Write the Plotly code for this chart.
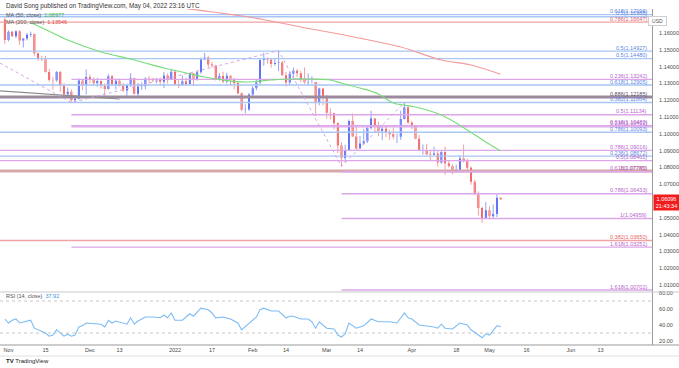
import plotly.graph_objects as go

# ---------------- data ----------------
# bar index: 0 = 2021-11-01, one index per trading day; -1 = 2021-10-29
bars = list(range(-1, 134))
opens = [1.1680,1.1558,1.1607,1.1580,1.1610,1.1555,1.1568,1.1589,1.1594,1.1479,1.1445,
 1.1444,1.1368,1.1320,1.1319,1.1368,1.1288,1.1235,1.1250,1.1199,1.1208,1.1318,1.1289,
 1.1338,1.1320,1.1301,1.1314,1.1284,1.1266,1.1343,1.1293,1.1316,1.1284,1.1258,1.1289,
 1.1330,1.1238,1.1282,1.1283,1.1329,1.1327,1.1319,1.1327,1.1310,1.1347,1.1324,1.1370,
 1.1297,1.1287,1.1313,1.1296,1.1360,1.1326,1.1366,1.1442,1.1454,1.1412,1.1407,1.1325,
 1.1344,1.1312,1.1345,1.1327,1.1303,1.1241,1.1143,1.1145,1.1234,1.1271,1.1305,1.1440,
 1.1450,1.1441,1.1416,1.1422,1.1425,1.1349,1.1305,1.1357,1.1376,1.1361,1.1323,1.1307,
 1.1308,1.1308,1.1189,1.1269,1.1221,1.1125,1.1122,1.1063,1.0931,1.0856,1.0904,1.1076,
 1.0984,1.0913,1.0943,1.0955,1.1035,1.1091,1.1051,1.1016,1.1030,1.1005,1.0997,1.0983,
 1.0983,1.1088,1.1158,1.1067,1.1046,1.0971,1.0904,1.0904,1.0879,1.0876,1.0883,1.0829,
 1.0891,1.0824,1.0809,1.0780,1.0786,1.0853,1.0837,1.0798,1.0714,1.0640,1.0559,1.0496,
 1.0545,1.0509,1.0522,1.0620]
highs = [1.1692,1.1616,1.1613,1.1616,1.1617,1.1570,1.1599,1.1608,1.1597,1.1484,1.1464,
 1.1464,1.1386,1.1338,1.1374,1.1374,1.1301,1.1275,1.1264,1.1229,1.1330,1.1322,1.1383,
 1.1352,1.1336,1.1334,1.1319,1.1300,1.1355,1.1350,1.1328,1.1328,1.1303,1.1299,1.1360,
 1.1335,1.1302,1.1306,1.1336,1.1344,1.1333,1.1333,1.1335,1.1369,1.1360,1.1386,1.1377,
 1.1320,1.1347,1.1333,1.1364,1.1362,1.1375,1.1453,1.1482,1.1465,1.1428,1.1410,1.1363,
 1.1369,1.1363,1.1348,1.1328,1.1308,1.1246,1.1175,1.1243,1.1287,1.1321,1.1449,1.1483,
 1.1454,1.1451,1.1449,1.1495,1.1434,1.1368,1.1369,1.1395,1.1387,1.1373,1.1395,1.1360,
 1.1342,1.1309,1.1274,1.1274,1.1231,1.1152,1.1125,1.1068,1.0950,1.0935,1.1085,1.1121,
 1.1044,1.0987,1.1028,1.1045,1.1137,1.1092,1.1073,1.1043,1.1048,1.1024,1.1036,1.1002,
 1.1137,1.1185,1.1165,1.1076,1.1054,1.0994,1.0937,1.0940,1.0903,1.0923,1.0901,1.0900,
 1.0924,1.0841,1.0819,1.0816,1.0872,1.0936,1.0853,1.0806,1.0725,1.0657,1.0566,1.0594,
 1.0569,1.0580,1.0641,1.0624]
lows = [1.1535,1.1550,1.1576,1.1570,1.1529,1.1513,1.1555,1.1576,1.1465,1.1434,1.1433,
 1.1365,1.1310,1.1264,1.1309,1.1250,1.1226,1.1225,1.1186,1.1186,1.1204,1.1260,1.1235,
 1.1300,1.1288,1.1280,1.1270,1.1227,1.1263,1.1286,1.1263,1.1282,1.1249,1.1222,1.1279,
 1.1234,1.1222,1.1262,1.1264,1.1300,1.1308,1.1300,1.1290,1.1272,1.1299,1.1322,1.1285,
 1.1272,1.1285,1.1285,1.1290,1.1285,1.1316,1.1357,1.1438,1.1393,1.1394,1.1317,1.1316,
 1.1301,1.1300,1.1284,1.1264,1.1235,1.1135,1.1121,1.1137,1.1220,1.1259,1.1289,1.1405,
 1.1418,1.1394,1.1405,1.1374,1.1344,1.1280,1.1290,1.1334,1.1338,1.1307,1.1298,1.1288,
 1.1300,1.1106,1.1170,1.1169,1.1090,1.1085,1.1026,1.0885,1.0806,1.0830,1.0900,1.0982,
 1.0902,1.0915,1.0935,1.0945,1.1025,1.1005,1.0986,1.0962,1.0980,1.0963,1.0965,1.0945,
 1.0964,1.1085,1.1059,1.1028,1.0967,1.0899,1.0876,1.0871,1.0837,1.0873,1.0806,1.0821,
 1.0757,1.0799,1.0759,1.0770,1.0772,1.0829,1.0783,1.0697,1.0635,1.0514,1.0470,1.0492,
 1.0490,1.0492,1.0505,1.0605]
closes = [1.1558,1.1607,1.1580,1.1610,1.1555,1.1568,1.1589,1.1594,1.1479,1.1445,1.1444,
 1.1368,1.1320,1.1319,1.1368,1.1288,1.1235,1.1250,1.1199,1.1208,1.1318,1.1289,1.1338,
 1.1320,1.1301,1.1314,1.1284,1.1266,1.1343,1.1293,1.1316,1.1284,1.1258,1.1289,1.1330,
 1.1238,1.1282,1.1283,1.1329,1.1327,1.1319,1.1327,1.1310,1.1347,1.1324,1.1370,1.1297,
 1.1287,1.1313,1.1296,1.1360,1.1326,1.1366,1.1442,1.1454,1.1412,1.1407,1.1325,1.1344,
 1.1312,1.1345,1.1327,1.1303,1.1241,1.1143,1.1145,1.1234,1.1271,1.1305,1.1440,1.1450,
 1.1441,1.1416,1.1422,1.1425,1.1349,1.1305,1.1357,1.1376,1.1361,1.1323,1.1307,1.1308,
 1.1308,1.1189,1.1269,1.1221,1.1125,1.1122,1.1063,1.0931,1.0856,1.0904,1.1076,1.0984,
 1.0913,1.0943,1.0955,1.1035,1.1091,1.1051,1.1016,1.1030,1.1005,1.0997,1.0983,1.0983,
 1.1088,1.1158,1.1067,1.1046,1.0971,1.0904,1.0904,1.0879,1.0876,1.0883,1.0829,1.0891,
 1.0824,1.0809,1.0780,1.0786,1.0853,1.0837,1.0798,1.0714,1.0640,1.0559,1.0496,1.0545,
 1.0509,1.0522,1.0620,1.0610]

# moving averages (bar index, value)
sma50_bar = [6, 11, 16, 25, 33, 37, 42, 48, 53, 58, 64, 71, 76, 82, 87, 90, 95, 100, 104, 110, 117, 124, 129, 133]
sma50_val = [1.1662, 1.1610, 1.1558, 1.1487, 1.1445, 1.1421, 1.1392, 1.1362, 1.1338, 1.1320, 1.1308,
             1.1320, 1.1326, 1.1326, 1.1320, 1.1302, 1.1273, 1.1237, 1.1183, 1.1160, 1.1112, 1.1023, 1.0951, 1.08977]
sma200_bar = [48, 65, 79, 92, 106, 117, 125, 133]
sma200_val = [1.1745, 1.1695, 1.1636, 1.1582, 1.1517, 1.1439, 1.1410, 1.13546]

# RSI(14)
rsi_bar = [-1,0,1,2,3,6,7,8,10,11,12,13,14,15,16,17,18,19,20,21,25,26,27,28,29,31,32,33,34,35,37,39,41,
           42,43,44,45,47,49,50,52,54,55,56,58,60,62,63,65,67,68,69,71,73,75,76,77,79,81,82,83,84,86,88,
           89,90,91,92,94,96,98,100,103,105,107,108,109,111,115,116,117,118,120,122,124,125,128,129,130,132,133]
rsi_val = [47.5,42.5,46,47.5,42.5,46,36,34,30,26,27.5,34,30,26,28.5,26,27.5,37.5,39,42.5,41,37.5,46,42.5,45,
           42.5,41,49,41,45,50,50,49,52.5,49,55,46,46,54,51,61,59,55,49,50,47.5,42.5,34,42.5,50,59,61,57.5,
           57.5,49,51,51,47.5,47.5,44,36,44,36,35,27.5,25,29,42.5,36,39,47.5,44,44,42.5,55,49,47.5,40,37.5,
           36,41,36,35,42.5,40,34,24,29,27.5,39,37.92]

# Fibonacci levels: price, label, style group, anchor bar (None = from left edge)
fib_price = [1.17096, 1.16968, 1.16647, 1.14927, 1.14480, 1.13242, 1.12905, 1.12185, 1.11864, 1.11134,
             1.10480, 1.10412, 1.10093, 1.09016, 1.08672, 1.08401, 1.07785, 1.07742, 1.06433, 1.04959,
             1.03650, 1.03251, 1.00702]
fib_label = ["0.618(1.17096)", "0.5(1.16968)", "0.786(1.16647)", "0.5(1.14927)", "0.5(1.14480)",
             "0.236(1.13242)", "0.618(1.12905)", "0.886(1.12185)", "0.382(1.11864)", "0.5(1.11134)",
             "0.618(1.10480)", "0.236(1.10412)", "0.786(1.10093)", "0.786(1.09016)", "0.236(1.08672)",
             "0.5(1.08401)", "1(1.07785)", "0.618(1.07742)", "0.786(1.06433)", "1(1.04959)",
             "0.382(1.03650)", "1.618(1.03251)", "1.618(1.00702)"]
fib_group = ["blue", "blue", "red", "blue", "blue", "purple", "blue", "dark", "blue", "purple",
             "purple", "purple", "blue", "purple", "blue", "purple", "brown", "purple", "purple", "purple",
             "red", "purple", "purple"]
fib_start = [None, None, None, None, None, 17, None, None, None, 17,
             17, 17, None, None, None, None, None, 90, 90, 90,
             None, 17, 90]

# dotted swing path (bar, price)
swing_bar = [-2.3, 17, 73, 90, 107]
swing_price = [1.1421, 1.1186, 1.1495, 1.0806, 1.1185]
# grey trend line (bar, price)
trend_bar = [-2.3, 30]
trend_price = [1.1255, 1.1207]

# time axis labels
tick_bar = [0, 10, 22, 30, 45, 55, 66, 75, 86, 95, 109, 121, 130, 140, 152, 160]
tick_text = ["Nov", "15", "Dec", "13", "2022", "17", "Feb", "14", "Mar", "14", "Apr", "18", "May", "16", "Jun", "13"]
price_ticks = [1.01, 1.02, 1.03, 1.04, 1.05, 1.07, 1.08, 1.09, 1.10, 1.11, 1.12, 1.13, 1.14, 1.15, 1.16]
rsi_ticks = [20, 40, 60, 80]
last_price, countdown = "1.06096", "21:43:34"

# ---------------- styling ----------------
W, H = 679, 368
FONT = "Liberation Sans"
XR = [-2.297, 173.92]
X_DOM = [0, 652 / W]
Y1_DOM = [1 - 292 / H, 1 - 9 / H]
Y2_DOM = [1 - 345 / H, 1 - 292 / H]
Y1_R = [1.16 - (292 - 33) / 1680, 1.16 + (33 - 9) / 1680]
Y2_R = [20 - (345 - 341) / 0.8, 20 + (341 - 292) / 0.8]

UP, DN = "#1c2cf5", "#f21c1c"
UPW, DNW = "#8ea4f5", "#f5a0a0"
line_col = {"blue": "#a9c6f5", "purple": "#dca6e8", "red": "#f1a3a3", "dark": "#9b8a9e", "brown": "#d5a9a9"}
line_w = {"blue": 1.3, "purple": 1.3, "red": 1.3, "dark": 3, "brown": 3}
lab_col = {"blue": "#5f86e0", "purple": "#b565cc", "red": "#e06464", "dark": "#5e4e60", "brown": "#b86a6a"}

fig = go.Figure()

# wicks
for up in (True, False):
    wx, wy = [], []
    for b, o, h, l, c in zip(bars, opens, highs, lows, closes):
        if (c >= o) == up:
            wx += [b, b, None]
            wy += [l, h, None]
    fig.add_trace(go.Scatter(x=wx, y=wy, mode="lines", line=dict(color=UPW if up else DNW, width=1),
                             hoverinfo="skip", showlegend=False, xaxis="x", yaxis="y"))

body_hi = [max(o, c) for o, c in zip(opens, closes)]
body_lo = [min(o, c) for o, c in zip(opens, closes)]
fig.add_trace(go.Candlestick(
    x=bars, open=opens, high=body_hi, low=body_lo, close=closes,
    increasing=dict(fillcolor=UP, line=dict(color=UP, width=0)),
    decreasing=dict(fillcolor=DN, line=dict(color=DN, width=0)),
    whiskerwidth=0, showlegend=False, xaxis="x", yaxis="y"))

# fib horizontal lines
for p, lab, g, s in zip(fib_price, fib_label, fib_group, fib_start):
    x0 = XR[0] if s is None else s
    fig.add_trace(go.Scatter(x=[x0, XR[1]], y=[p, p], mode="lines",
                             line=dict(color=line_col[g], width=line_w[g]),
                             hoverinfo="skip", showlegend=False, xaxis="x", yaxis="y"))
    fig.add_annotation(x=XR[1] - 0.9, y=p, xref="x", yref="y", text=lab, showarrow=False,
                       xanchor="right", yanchor="bottom", yshift=-1.5,
                       font=dict(size=5.5, color=lab_col[g], family=FONT))

fig.add_trace(go.Scatter(x=trend_bar, y=trend_price, mode="lines", line=dict(color="#8c8c8c", width=1.2),
                         hoverinfo="skip", showlegend=False, xaxis="x", yaxis="y"))
fig.add_trace(go.Scatter(x=swing_bar, y=swing_price, mode="lines", line=dict(color="#d7a3e3", width=1, dash="dot"),
                         hoverinfo="skip", showlegend=False, xaxis="x", yaxis="y"))
fig.add_trace(go.Scatter(x=sma50_bar, y=sma50_val, mode="lines", line=dict(color="#78dc78", width=1.1, shape="spline"),
                         hoverinfo="skip", showlegend=False, xaxis="x", yaxis="y"))
fig.add_trace(go.Scatter(x=sma200_bar, y=sma200_val, mode="lines", line=dict(color="#f39a9a", width=1.1, shape="spline"),
                         hoverinfo="skip", showlegend=False, xaxis="x", yaxis="y"))

# RSI
for lvl in (70, 30):
    fig.add_trace(go.Scatter(x=XR, y=[lvl, lvl], mode="lines", line=dict(color="#c8c8c8", width=1, dash="dot"),
                             hoverinfo="skip", showlegend=False, xaxis="x2", yaxis="y2"))
fig.add_trace(go.Scatter(x=rsi_bar, y=rsi_val, mode="lines", line=dict(color="#7cbcf5", width=1.1),
                         hoverinfo="skip", showlegend=False, xaxis="x2", yaxis="y2"))

axis_font = dict(size=5.5, color="#4a4a4a", family=FONT)
fig.update_layout(
    width=W, height=H, margin=dict(l=0, r=0, t=0, b=0, autoexpand=False),
    paper_bgcolor="white", plot_bgcolor="white", showlegend=False,
    xaxis=dict(domain=X_DOM, range=XR, showticklabels=False, showgrid=False, zeroline=False,
               rangeslider=dict(visible=False), anchor="y"),
    yaxis=dict(domain=Y1_DOM, range=Y1_R, side="right", tickvals=price_ticks, tickformat=".5f",
               showgrid=False, zeroline=False, showline=True, linecolor="#9a9a9a", linewidth=1,
               ticks="", tickfont=axis_font, ticklabelstandoff=5, anchor="x"),
    xaxis2=dict(domain=X_DOM, range=XR, tickvals=tick_bar, ticktext=tick_text, showgrid=False,
                zeroline=False, ticks="", tickfont=axis_font, anchor="y2", ticklabelstandoff=0),
    yaxis2=dict(domain=Y2_DOM, range=Y2_R, side="right", tickvals=rsi_ticks, tickformat=".2f",
                showgrid=False, zeroline=False, showline=True, linecolor="#9a9a9a", linewidth=1,
                ticks="", tickfont=axis_font, ticklabelstandoff=5, anchor="x2"),
)

# pane separators
for yp, col in ((1 - 292 / H, "#c9c9c9"), (1 - 345 / H, "#9a9a9a"), (1 - 356 / H, "#e0e0e0")):
    fig.add_shape(type="line", xref="paper", yref="paper", x0=0, x1=1, y0=yp, y1=yp,
                  line=dict(color=col, width=1))

# header & legends
fig.add_annotation(x=4 / W, y=1 - 6 / H, xref="paper", yref="paper", xanchor="left", yanchor="middle",
                   text="David Song published on TradingView.com, May 04, 2022 23:16 UTC", showarrow=False,
                   font=dict(size=6.3, color="#333333", family=FONT))
fig.add_annotation(x=4 / W, y=1 - 15 / H, xref="paper", yref="paper", xanchor="left", yanchor="middle",
                   text="MA (50, close)  <span style='color:#3cb83c'>1.08977</span>", showarrow=False,
                   font=dict(size=5.5, color="#555555", family=FONT))
fig.add_annotation(x=4 / W, y=1 - 21.5 / H, xref="paper", yref="paper", xanchor="left", yanchor="middle",
                   text="MA (200, close)  <span style='color:#e04848'>1.13546</span>", showarrow=False,
                   font=dict(size=5.5, color="#555555", family=FONT))
fig.add_annotation(x=4 / W, y=1 - 296 / H, xref="paper", yref="paper", xanchor="left", yanchor="middle",
                   text="RSI (14, close)  <span style='color:#3d8fe0'>37.92</span>", showarrow=False,
                   font=dict(size=5.5, color="#555555", family=FONT))
fig.add_annotation(x=4 / W, y=1 - 361 / H, xref="paper", yref="paper", xanchor="left", yanchor="middle",
                   text="<b>TV</b> TradingView", showarrow=False,
                   font=dict(size=6, color="#222222", family=FONT))

# USD box
fig.add_annotation(x=666.5 / W, y=1 - 15.8 / H, xref="paper", yref="paper", text="USD", showarrow=False,
                   font=dict(size=5, color="#555555", family=FONT), bordercolor="#cfcfcf", borderwidth=1,
                   borderpad=1, bgcolor="white", width=15)

# last price box
fig.add_annotation(x=653 / W, y=1 - 202 / H, xref="paper", yref="paper", xanchor="left", yanchor="middle",
                   text=last_price + "<br>" + countdown, showarrow=False, align="center",
                   font=dict(size=5.5, color="white", family=FONT), bgcolor="#f21c1c", borderpad=1,
                   width=23)

fig.write_html("out.html", config={"displayModeBar": False},
               post_script="document.body.style.margin='0';document.body.style.overflow='hidden';")
